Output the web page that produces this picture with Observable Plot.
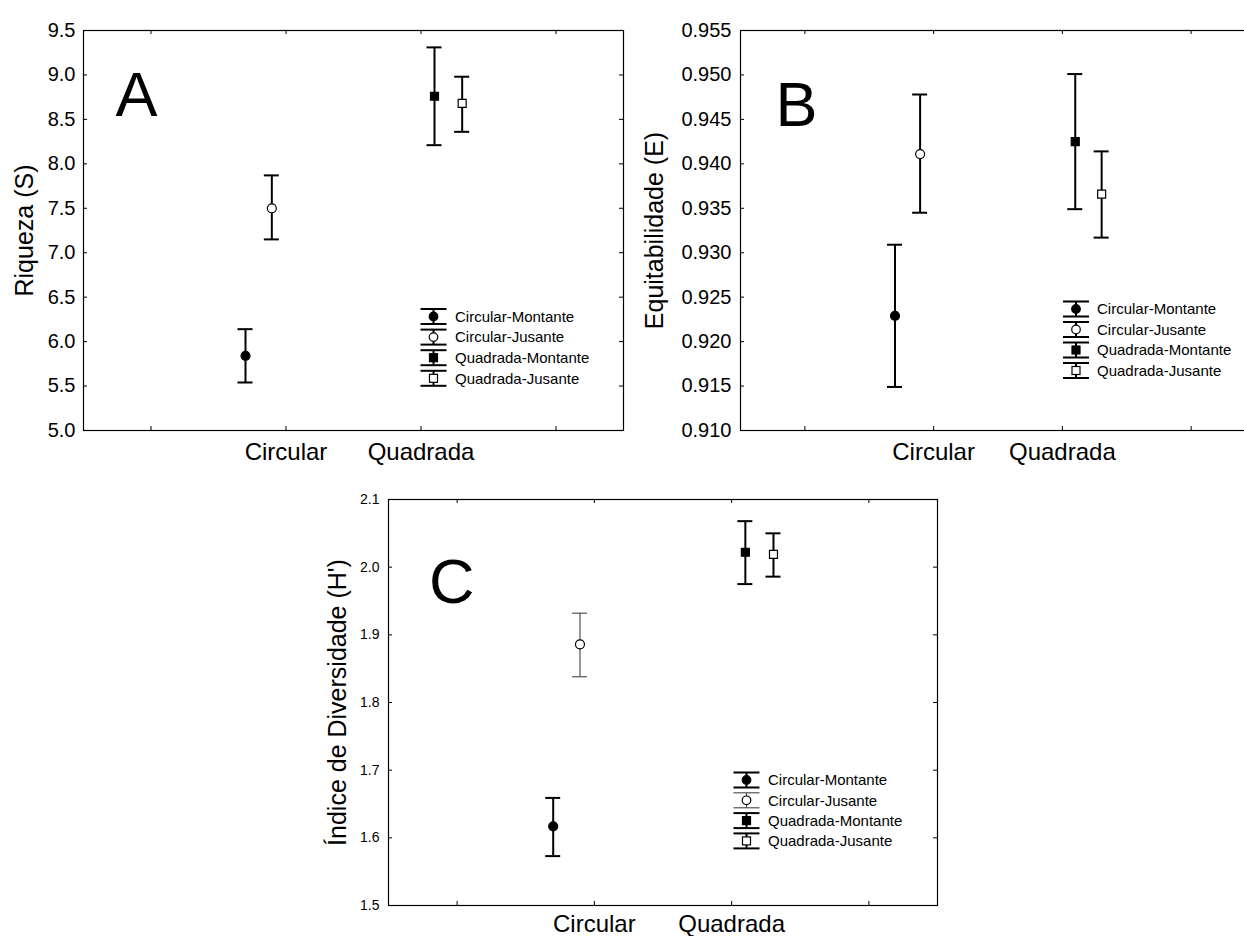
<!DOCTYPE html>
<html><head><meta charset="utf-8">
<script src="https://cdn.jsdelivr.net/npm/d3@7"></script>
<script src="https://cdn.jsdelivr.net/npm/@observablehq/plot@0.6"></script>
<style>
body{margin:0;background:#fff;}
#root{position:relative;width:1244px;height:936px;overflow:hidden;background:#fff;font-family:"Liberation Sans",Arial,sans-serif;}
.panel{position:absolute;}
.panel svg{max-width:none !important;}
#legend{position:absolute;left:0;top:0;pointer-events:none;}
</style></head><body><div id="root"></div>
<script>
// ---------- data ----------
const categories = ["Circular", "Quadrada"];
const xTickLabels = ["", "Circular", "Quadrada", ""];
const seriesNames = ["Circular-Montante", "Circular-Jusante", "Quadrada-Montante", "Quadrada-Jusante"];
const seriesCategory = ["Circular", "Circular", "Quadrada", "Quadrada"];
const seriesSite = ["Montante", "Jusante", "Montante", "Jusante"];

const riquezaMean = [5.84, 7.50, 8.76, 8.68];
const riquezaLow  = [5.54, 7.15, 8.21, 8.36];
const riquezaHigh = [6.14, 7.87, 9.31, 8.98];
const riquezaTicks = [5.0, 5.5, 6.0, 6.5, 7.0, 7.5, 8.0, 8.5, 9.0, 9.5];

const equitMean = [0.9229, 0.9411, 0.9425, 0.9366];
const equitLow  = [0.9149, 0.9345, 0.9349, 0.9317];
const equitHigh = [0.9309, 0.9478, 0.9501, 0.9414];
const equitTicks = [0.910, 0.915, 0.920, 0.925, 0.930, 0.935, 0.940, 0.945, 0.950, 0.955];

const diversMean = [1.617, 1.886, 2.022, 2.019];
const diversLow  = [1.573, 1.838, 1.975, 1.986];
const diversHigh = [1.659, 1.932, 2.068, 2.050];
const diversTicks = [1.5, 1.6, 1.7, 1.8, 1.9, 2.0, 2.1];

// ---------- layout / style ----------
const seriesOffset = {"Circular-Montante": -0.30, "Circular-Jusante": -0.105, "Quadrada-Montante": 0.10, "Quadrada-Jusante": 0.305};

const panels = [
  {letter: "A", yLabel: "Riqueza (S)", mean: riquezaMean, low: riquezaLow, high: riquezaHigh, ticks: riquezaTicks, fmt: ".1f",
   left: 0, top: 0, width: 640, height: 470, ml: 83, mt: 30, mr: 17, mb: 40,
   tickFont: 20, tickPad: 8, xPad: 12, labelDx: -51, letterDx: 32, letterDy: 85,
   legend: {x: 433.5, y: 316.5, step: 20.6, tx: 455}, thin: []},
  {letter: "B", yLabel: "Equitabilidade (E)", mean: equitMean, low: equitLow, high: equitHigh, ticks: equitTicks, fmt: ".3f",
   left: 620, top: 0, width: 660, height: 470, ml: 120, mt: 30, mr: 25, mb: 40,
   tickFont: 20, tickPad: 9, xPad: 12, labelDx: -78, letterDx: 35, letterDy: 95,
   legend: {x: 1076, y: 309, step: 20.5, tx: 1097}, thin: []},
  {letter: "C", yLabel: "Índice de Diversidade (H')", mean: diversMean, low: diversLow, high: diversHigh, ticks: diversTicks, fmt: ".1f",
   left: 300, top: 470, width: 660, height: 466, ml: 88, mt: 29, mr: 23, mb: 31,
   tickFont: 14, tickPad: 9, xPad: 9, labelDx: -43, letterDx: 40.5, letterDy: 103,
   legend: {x: 746.5, y: 780, step: 20.3, tx: 768}, thin: ["Circular-Jusante"]}
];

const root = document.getElementById("root");

function styleFor(p, name) {
  return p.thin.includes(name) ? {stroke: "#444", strokeWidth: 1.1} : {stroke: "black", strokeWidth: 2};
}

panels.forEach(p => {
  const plotW = p.width - p.ml - p.mr;
  const plotH = p.height - p.mt - p.mb;
  const unitPx = plotW / xTickLabels.length;
  const capHalf = 7.5 / unitPx;
  const rows = seriesNames.map((name, i) => ({
    name, category: seriesCategory[i], site: seriesSite[i],
    mean: p.mean[i], low: p.low[i], high: p.high[i],
    pos: xTickLabels.indexOf(seriesCategory[i]) + 0.5 + seriesOffset[name]
  }));
  const xTicks = xTickLabels.map((_, i) => i + 0.5);
  const marks = [
    Plot.frame({stroke: "black", strokeWidth: 1.2}),
    Plot.tickY(p.ticks, {y: d => d, insetRight: plotW - 4, stroke: "black"}),
    Plot.tickY(p.ticks, {y: d => d, insetLeft: plotW - 4, stroke: "black"}),
    Plot.tickX(xTicks, {x: d => d, insetBottom: plotH - 4, stroke: "black"}),
    Plot.tickX(xTicks, {x: d => d, insetTop: plotH - 4, stroke: "black"}),
    Plot.axisY({ticks: p.ticks, tickSize: 0, tickPadding: p.tickPad, tickFormat: d3.format(p.fmt), fontSize: p.tickFont, label: null}),
    Plot.axisX({ticks: xTicks, tickSize: 0, tickPadding: p.xPad, tickFormat: d => xTickLabels[Math.floor(d)], fontSize: 24, label: null}),
    Plot.text([p.yLabel], {text: d => d, frameAnchor: "left", dx: p.labelDx, rotate: -90, textAnchor: "middle", lineAnchor: "bottom", fontSize: 25}),
    Plot.text([p.letter], {text: d => d, frameAnchor: "top-left", dx: p.letterDx, dy: p.letterDy, textAnchor: "start", lineAnchor: "bottom", fontSize: 63})
  ];
  rows.forEach(r => {
    const s = styleFor(p, r.name);
    marks.push(
      Plot.ruleX([r], {x: "pos", y1: "low", y2: "high", ...s}),
      Plot.ruleY([r], {y: "high", x1: d => d.pos - capHalf, x2: d => d.pos + capHalf, ...s}),
      Plot.ruleY([r], {y: "low", x1: d => d.pos - capHalf, x2: d => d.pos + capHalf, ...s}),
      Plot.dot([r], {x: "pos", y: "mean", r: 4.5, symbol: r.category === "Circular" ? "circle" : "square",
        fill: r.site === "Montante" ? "black" : "white", stroke: "black", strokeWidth: 1.2})
    );
  });
  const chart = Plot.plot({
    width: p.width, height: p.height,
    marginLeft: p.ml, marginRight: p.mr, marginTop: p.mt, marginBottom: p.mb,
    style: {fontFamily: '"Liberation Sans", Arial, sans-serif', color: "black", background: "transparent", overflow: "visible", maxWidth: "none"},
    x: {domain: [0, xTickLabels.length]},
    y: {domain: [p.ticks[0], p.ticks[p.ticks.length - 1]]},
    marks
  });
  const div = document.createElement("div");
  div.className = "panel";
  div.style.left = p.left + "px";
  div.style.top = p.top + "px";
  div.style.width = p.width + "px";
  div.style.height = p.height + "px";
  div.appendChild(chart);
  root.appendChild(div);
});

// ---------- legends ----------
const svg = d3.select(root).append("svg").attr("id", "legend").attr("width", 1244).attr("height", 936);
panels.forEach(p => {
  const L = p.legend;
  seriesNames.forEach((name, i) => {
    const s = styleFor(p, name);
    const cy = L.y + i * L.step;
    const g = svg.append("g");
    g.append("line").attr("x1", L.x).attr("x2", L.x).attr("y1", cy - 7.5).attr("y2", cy + 7.5).attr("stroke", s.stroke).attr("stroke-width", s.strokeWidth);
    [cy - 7.5, cy + 7.5].forEach(yy => g.append("line").attr("x1", L.x - 13).attr("x2", L.x + 13).attr("y1", yy).attr("y2", yy).attr("stroke", s.stroke).attr("stroke-width", s.strokeWidth));
    const fill = seriesSite[i] === "Montante" ? "black" : "white";
    if (seriesCategory[i] === "Circular") {
      g.append("circle").attr("cx", L.x).attr("cy", cy).attr("r", 4.3).attr("fill", fill).attr("stroke", "black").attr("stroke-width", 1.2);
    } else {
      g.append("rect").attr("x", L.x - 4).attr("y", cy - 4).attr("width", 8).attr("height", 8).attr("fill", fill).attr("stroke", "black").attr("stroke-width", 1.2);
    }
    g.append("text").attr("x", L.tx).attr("y", cy).attr("dy", "0.35em").attr("font-size", 15)
      .attr("font-family", '"Liberation Sans", Arial, sans-serif').attr("fill", "black").text(name);
  });
});
</script></body></html>
